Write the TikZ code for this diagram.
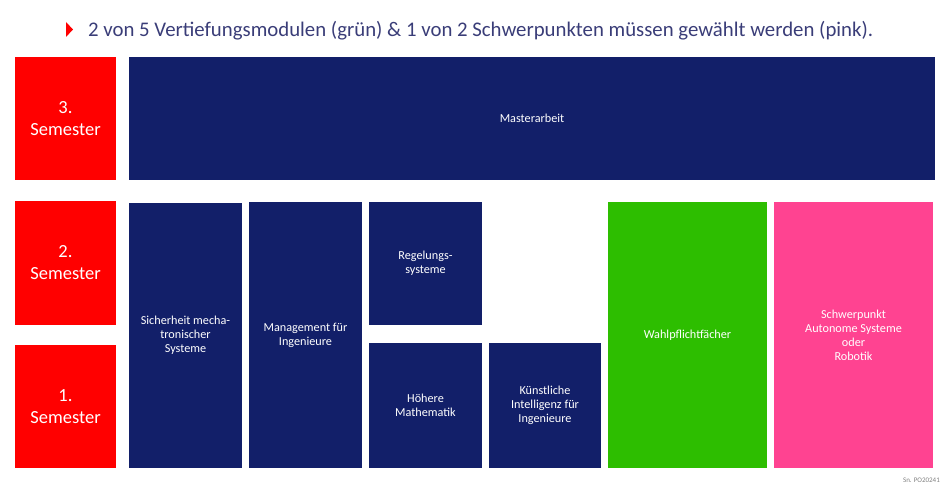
\documentclass[tikz,border=0pt]{standalone}
\usepackage{fontspec}
\setmainfont{Carlito}
\usepackage{xcolor}
\usepackage{tikz}
\usetikzlibrary{positioning,fit}

\definecolor{semred}{HTML}{FF0000}
\definecolor{modblue}{HTML}{121F69}
\definecolor{wahlgreen}{HTML}{2DBE00}
\definecolor{schwpink}{HTML}{FF4391}
\definecolor{headblue}{HTML}{3A3D78}

\begin{document}
\begin{tikzpicture}[x=1pt,y=-1pt,
		semester/.style={inner sep=0pt, fill=semred},
		semtext/.style={inner sep=0pt, text=white, align=center, font=\fontsize{18.5}{22}\selectfont},
		modul/.style={inner sep=0pt, fill=modblue},
		modtext/.style={inner sep=0pt, text=white, align=center, font=\fontsize{12.2}{14}\selectfont}]
					\tikzset{wahl/.style={modul, fill=wahlgreen}, schwer/.style={modul, fill=schwpink}}

					\useasboundingbox (0,0) rectangle (950,502);

					% Kopfzeile
					\fill[semred] (66,22) -- (73,29.5) -- (66,37) -- cycle;
					\node[anchor=west, inner sep=0pt, text=headblue, font=\fontsize{20.8}{24}\selectfont] (titel) at (88,30.5) {2 von 5 Vertiefungsmodulen (grün) \& 1 von 2 Schwerpunkten müssen gewählt werden (pink).};

					% Semester
					\node[fit={(15,57) (116,180)}, semester, label={[semtext]center:3.\\Semester}] (sem3) {};
					\node[fit={(15,201) (116,325)}, semester, label={[semtext]center:2.\\Semester}] (sem2) {};
					\node[fit={(15,345) (116,468)}, semester, label={[semtext]center:1.\\Semester}] (sem1) {};

					% Module
					\node[fit={(129,57) (935,180)}, modul, label={[modtext]center:Masterarbeit}] (master) {};
					\node[fit={(129,203) (242,468)}, modul, label={[modtext]center:Sicherheit mecha-\\tronischer\\Systeme}] (sicher) {};
					\node[fit={(249,202) (362,468)}, modul, label={[modtext]center:Management für\\Ingenieure}] (manage) {};
					\node[fit={(369,202) (482,325)}, modul, label={[modtext]center:Regelungs-\\systeme}] (regel) {};
					\node[fit={(369,343) (482,468)}, modul, label={[modtext]center:Höhere\\Mathematik}] (mathe) {};
					\node[fit={(489,343) (601,468)}, modul, label={[modtext]center:Künstliche\\Intelligenz für\\Ingenieure}] (ki) {};
					\node[fit={(608,202) (767,468)}, wahl, label={[modtext]center:Wahlpflichtfächer}] (wpf) {};
					\node[fit={(774,202) (933,468)}, schwer, label={[modtext]center:Schwerpunkt\\Autonome Systeme\\oder\\Robotik}] (schwp) {};

					\node[anchor=east, inner sep=0pt, text=gray, font=\fontsize{7}{8}\selectfont] (stand) at (940,480) {Sn. PO20241};

				\end{tikzpicture}
\end{document}
